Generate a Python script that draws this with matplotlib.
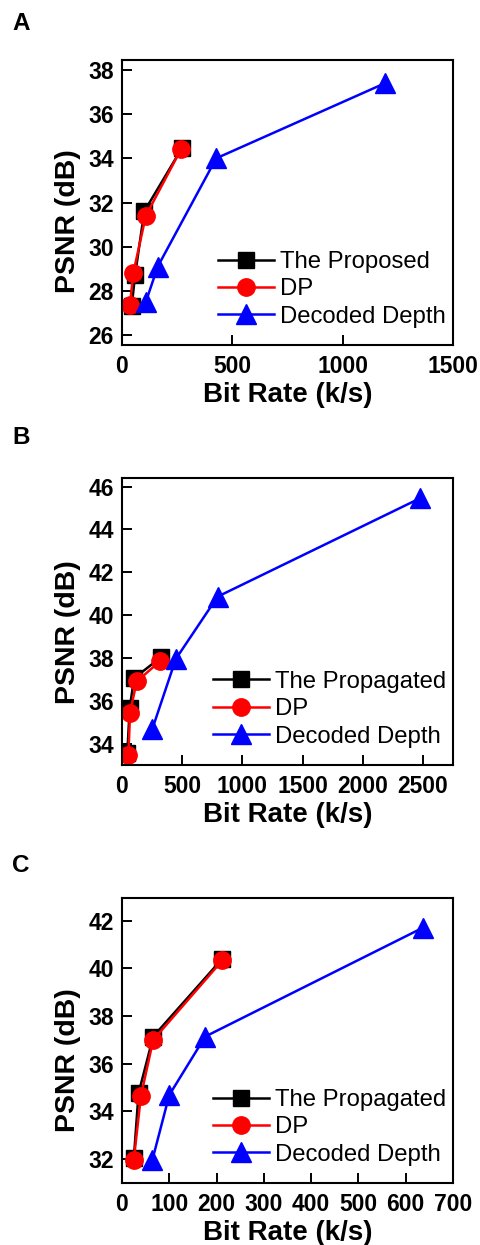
import matplotlib
matplotlib.use("Agg")
import matplotlib.pyplot as plt

plt.rcParams['font.family'] = ['Liberation Sans', 'DejaVu Sans']

# Panel A
a_prop_x = [44, 59, 101, 271]
a_prop_y = [27.3, 28.7, 31.6, 34.45]
a_dp_x = [36, 51, 108, 268]
a_dp_y = [27.35, 28.8, 31.4, 34.42]
a_dec_x = [108, 162, 427, 1192]
a_dec_y = [27.5, 29.1, 34.0, 37.4]
a_xticks = [0, 500, 1000, 1500]
a_yticks = [26, 28, 30, 32, 34, 36, 38]

# Panel B
b_prop_x = [44, 64, 100, 328]
b_prop_y = [33.55, 35.65, 37.05, 38.05]
b_dp_x = [53, 67, 122, 317]
b_dp_y = [33.45, 35.45, 36.9, 37.85]
b_dec_x = [253, 447, 794, 2475]
b_dec_y = [34.7, 37.95, 40.86, 45.45]
b_xticks = [0, 500, 1000, 1500, 2000, 2500]
b_yticks = [34, 36, 38, 40, 42, 44, 46]

# Panel C
c_prop_x = [25, 35, 66, 212]
c_prop_y = [32.03, 34.76, 37.14, 40.4]
c_dp_x = [25, 40, 66, 212]
c_dp_y = [31.98, 34.65, 37.0, 40.33]
c_dec_x = [64, 100, 176, 636]
c_dec_y = [31.95, 34.69, 37.14, 41.7]
c_xticks = [0, 100, 200, 300, 400, 500, 600, 700]
c_yticks = [32, 34, 36, 38, 40, 42]

W, H = 481, 1245
fig = plt.figure(figsize=(W / 100, H / 100), dpi=100)

panels = [
    dict(letter='A', base=30, top=60, bot=345, xlim=(0, 1500), ylim=(25.55, 38.45),
         xt=a_xticks, yt=a_yticks, label='The Proposed', ylab_y=0.435,
         data=(a_prop_x, a_prop_y, a_dp_x, a_dp_y, a_dec_x, a_dec_y)),
    dict(letter='B', base=444, top=478, bot=765, xlim=(0, 2750), ylim=(33.0, 46.4),
         xt=b_xticks, yt=b_yticks, label='The Propagated', ylab_y=0.463,
         data=(b_prop_x, b_prop_y, b_dp_x, b_dp_y, b_dec_x, b_dec_y)),
    dict(letter='C', base=872, top=898, bot=1183, xlim=(0, 700), ylim=(31.0, 42.95),
         xt=c_xticks, yt=c_yticks, label='The Propagated', ylab_y=0.43,
         data=(c_prop_x, c_prop_y, c_dp_x, c_dp_y, c_dec_x, c_dec_y)),
]

left, right = 122, 453
for p in panels:
    ax = fig.add_axes([left / W, 1 - p['bot'] / H, (right - left) / W, (p['bot'] - p['top']) / H])
    px, py, dx, dy, ex, ey = p['data']
    ax.plot(px, py, '-s', color='black', lw=1.8, ms=11, label=p['label'])
    ax.plot(dx, dy, '-o', color='red', lw=1.8, ms=12.5, label='DP')
    ax.plot(ex, ey, '-^', color='blue', lw=1.8, ms=14.5, label='Decoded Depth')
    ax.set_xlim(*p['xlim'])
    ax.set_ylim(*p['ylim'])
    ax.set_xticks(p['xt'])
    ax.set_yticks(p['yt'])
    for s in ax.spines.values():
        s.set_linewidth(1.5)
    ax.tick_params(direction='in', length=7, width=1.4, labelsize=16.5)
    ax.tick_params(axis='x', pad=7)
    ax.tick_params(axis='y', pad=6)
    for lab in ax.get_xticklabels() + ax.get_yticklabels():
        lab.set_fontweight('bold')
    ax.set_xlabel('Bit Rate (k/s)', fontsize=20, fontweight='bold', labelpad=3)
    ax.set_ylabel('PSNR (dB)', fontsize=20.5, fontweight='bold')
    ax.yaxis.set_label_coords(-0.125, p['ylab_y'])
    ax.legend(loc='lower right', bbox_to_anchor=(1.0, 0.035), frameon=False,
              fontsize=17.2, handlelength=2.35, handletextpad=0.25,
              labelspacing=0.23, borderaxespad=0.1, borderpad=0.2)
    fig.text(12 / W, 1 - p['base'] / H, p['letter'], fontsize=17.5, fontweight='bold',
             va='baseline', ha='left')

fig.savefig('out.png', dpi=100)
